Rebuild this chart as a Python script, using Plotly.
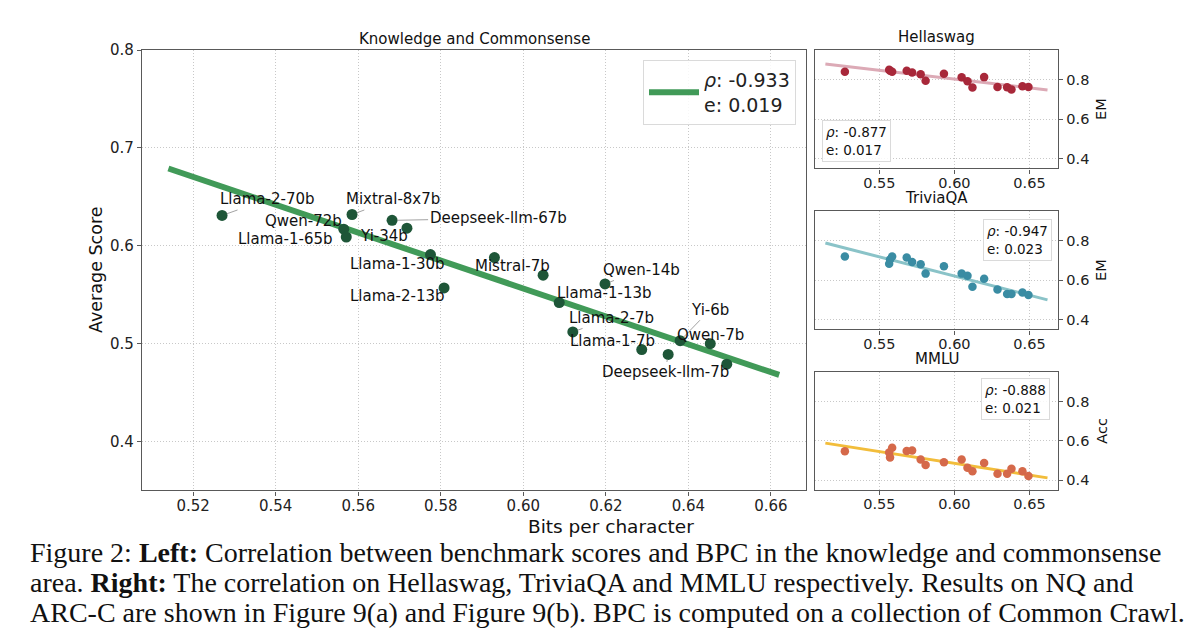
import plotly.graph_objects as go

# ---------------- data ----------------
labels = ["Llama-2-70b", "Qwen-72b", "Llama-1-65b", "Mixtral-8x7b", "Deepseek-llm-67b",
          "Yi-34b", "Llama-1-30b", "Llama-2-13b", "Mistral-7b", "", "Llama-1-13b",
          "Llama-2-7b", "Qwen-14b", "Llama-1-7b", "Deepseek-llm-7b", "Yi-6b", "Qwen-7b", ""]
bpc = [0.5270, 0.5565, 0.5571, 0.5585, 0.5682, 0.5718, 0.5775, 0.5808, 0.5930,
       0.6048, 0.6087, 0.6120, 0.6198, 0.6287, 0.6351, 0.6380, 0.6453, 0.6493]
avg_score = [0.631, 0.617, 0.609, 0.632, 0.626, 0.618, 0.591, 0.557, 0.588,
             0.570, 0.542, 0.512, 0.561, 0.494, 0.489, 0.503, 0.500, 0.479]
hellaswag = [0.840, 0.850, 0.845, 0.840, 0.845, 0.837, 0.827, 0.795, 0.830,
             0.812, 0.792, 0.760, 0.813, 0.763, 0.762, 0.750, 0.767, 0.763]
triviaqa = [0.720, 0.683, 0.705, 0.720, 0.715, 0.692, 0.680, 0.633, 0.670,
            0.633, 0.622, 0.567, 0.607, 0.553, 0.530, 0.530, 0.537, 0.525]
mmlu = [0.547, 0.540, 0.515, 0.565, 0.548, 0.550, 0.505, 0.477, 0.490,
        0.505, 0.462, 0.445, 0.487, 0.432, 0.432, 0.458, 0.445, 0.420]

fit_bpc = [0.514, 0.662]
fit_main = [0.679, 0.468]
fit_hellaswag = [0.879, 0.748]
fit_triviaqa = [0.788, 0.500]
fit_mmlu = [0.588, 0.411]

rho_vals = ["-0.933", "-0.877", "-0.947", "-0.888"]
err_vals = ["0.019", "0.017", "0.023", "0.021"]

main_xticks = [0.52, 0.54, 0.56, 0.58, 0.60, 0.62, 0.64, 0.66]
main_yticks = [0.4, 0.5, 0.6, 0.7, 0.8]
sub_xticks = [0.55, 0.60, 0.65]
sub_yticks = [0.4, 0.6, 0.8]

caption_lines = [
    "Figure 2: <b>Left:</b> Correlation between benchmark scores and BPC in the knowledge and commonsense",
    "area. <b>Right:</b> The correlation on Hellaswag, TriviaQA and MMLU respectively. Results on NQ and",
    "ARC-C are shown in Figure 9(a) and Figure 9(b). BPC is computed on a collection of Common Crawl.",
]

# ---------------- layout helpers ----------------
W, H = 1200, 639
FONT = "DejaVu Sans"


def fx(p):
    return p / W


def fy(p):
    return 1 - p / H


# label offsets (pixels, label centre relative to point) and leader-line flag
label_offsets = {
    "Llama-2-70b": (45, -16, True),
    "Mixtral-8x7b": (41, -15, True),
    "Qwen-72b": (-40, -8, False),
    "Llama-1-65b": (-61, 2, False),
    "Deepseek-llm-67b": (106, -2, True),
    "Yi-34b": (-23, 8, False),
    "Llama-1-30b": (-33, 9, False),
    "Llama-2-13b": (-47, 8, False),
    "Mistral-7b": (18, 8, False),
    "Qwen-14b": (36, -14, True),
    "Llama-1-13b": (45, -10, False),
    "Llama-2-7b": (39, -14, True),
    "Llama-1-7b": (-29, -9, False),
    "Deepseek-llm-7b": (-3, 18, True),
    "Yi-6b": (30, -31, True),
    "Qwen-7b": (0, -9, False),
}

AX_LINE = "#595959"
GRID = "#c8c8c8"


def axis_style(size):
    return dict(showline=True, mirror=True, linecolor=AX_LINE, linewidth=1.2,
                ticks="outside", ticklen=4, tickcolor=AX_LINE, tickwidth=1,
                showgrid=True, gridcolor=GRID, griddash="1px,2px", gridwidth=1,
                zeroline=False, tickfont=dict(family=FONT, size=size, color="#222"))


fig = go.Figure()

# main plot
fig.add_trace(go.Scatter(x=fit_bpc, y=fit_main, mode="lines",
                         line=dict(color="#419a58", width=6),
                         name=f"<i>ρ</i>: {rho_vals[0]}<br>e: {err_vals[0]}",
                         showlegend=True, hoverinfo="skip", xaxis="x", yaxis="y"))
fig.add_trace(go.Scatter(x=bpc, y=avg_score, mode="markers",
                         marker=dict(color="#1e5638", size=11),
                         showlegend=False, xaxis="x", yaxis="y"))

subs = [
    ("Hellaswag", hellaswag, fit_hellaswag, "#a8283a", "#dcaab6", "EM", 2, (41.7, 161.7)),
    ("TriviaQA", triviaqa, fit_triviaqa, "#3a8ca3", "#8ac3c8", "EM", 3, (205.0, 325.0)),
    ("MMLU", mmlu, fit_mmlu, "#d5694a", "#f2bd3b", "Acc", 4, (368.3, 487.7)),
]

for name, ys, fit, dot_c, line_c, ylab, k, (top, bot) in subs:
    fig.add_trace(go.Scatter(x=fit_bpc, y=fit, mode="lines", line=dict(color=line_c, width=3),
                             showlegend=False, hoverinfo="skip",
                             xaxis=f"x{k}", yaxis=f"y{k}"))
    fig.add_trace(go.Scatter(x=bpc, y=ys, mode="markers", marker=dict(color=dot_c, size=8.5),
                             showlegend=False, xaxis=f"x{k}", yaxis=f"y{k}"))

layout = dict(
    width=W, height=H, margin=dict(l=0, r=0, t=0, b=0),
    paper_bgcolor="white", plot_bgcolor="white",
    font=dict(family=FONT, color="#222"),
    xaxis=dict(axis_style(15), domain=[fx(142), fx(806)], range=[0.5076, 0.6685],
               tickvals=main_xticks, tickformat=".2f", anchor="y", ticklabelstandoff=-3),
    yaxis=dict(axis_style(15), domain=[fy(488.3), fy(41.7)], range=[0.35, 0.8],
               tickvals=main_yticks, tickformat=".1f", anchor="x"),
    legend=dict(x=fx(796), xanchor="right", y=fy(51.7), yanchor="top",
                bgcolor="rgba(255,255,255,0.85)", bordercolor="#dadada", borderwidth=1,
                font=dict(family=FONT, size=19, color="#222"), valign="middle",
                itemwidth=50),
    showlegend=True,
)

annotations = []
for name, ys, fit, dot_c, line_c, ylab, k, (top, bot) in subs:
    layout[f"xaxis{k}"] = dict(axis_style(14.5), domain=[fx(815), fx(1058.3)],
                               range=[0.5071, 0.6692], tickvals=sub_xticks, tickformat=".2f",
                               anchor=f"y{k}", ticklabelstandoff=-3)
    layout[f"yaxis{k}"] = dict(axis_style(14.5), domain=[fy(bot), fy(top)], range=[0.35, 0.95],
                               tickvals=sub_yticks, tickformat=".1f", side="right",
                               anchor=f"x{k}")
    # subplot title
    annotations.append(dict(xref="paper", yref="paper", x=fx(936.7), y=fy(top - 2),
                            xanchor="center", yanchor="bottom", showarrow=False,
                            text=name, font=dict(family=FONT, size=15, color="#111")))
    # y label on right
    annotations.append(dict(xref="paper", yref="paper", x=fx(1101.7), y=fy((top + bot) / 2),
                            xanchor="center", yanchor="middle", showarrow=False, textangle=-90,
                            text=ylab, font=dict(family=FONT, size=14.5, color="#111")))

# subplot stat boxes
stat_boxes = [
    (1, dict(x=fx(822.3), xanchor="left", y=fy(113), yanchor="top")),
    (2, dict(x=fx(1052), xanchor="right", y=fy(213), yanchor="top")),
    (3, dict(x=fx(1050), xanchor="right", y=fy(374), yanchor="top")),
]
for i, pos in stat_boxes:
    annotations.append(dict(xref="paper", yref="paper", showarrow=False, align="left",
                            text=f"<i>ρ</i>: {rho_vals[i]}<br>e: {err_vals[i]}",
                            font=dict(family=FONT, size=13.5, color="#111"),
                            bgcolor="rgba(255,255,255,0.85)", bordercolor="#dadada",
                            borderwidth=1, borderpad=3, **pos))

# main point labels
for lab, xv, yv in zip(labels, bpc, avg_score):
    if not lab:
        continue
    dx, dy, arrow = label_offsets[lab]
    if arrow:
        annotations.append(dict(xref="x", yref="y", x=xv, y=yv, text=lab, showarrow=True,
                                ax=dx, ay=dy, arrowhead=0, arrowwidth=0.8, arrowcolor="#8a8a8a",
                                standoff=5, font=dict(family=FONT, size=15, color="#111")))
    else:
        annotations.append(dict(xref="x", yref="y", x=xv, y=yv, text=lab, showarrow=False,
                                xshift=dx, yshift=-dy,
                                font=dict(family=FONT, size=15, color="#111")))

# titles
annotations.append(dict(xref="paper", yref="paper", x=fx(474), y=fy(30), showarrow=False,
                        text="Knowledge and Commonsense", xanchor="center", yanchor="middle",
                        font=dict(family=FONT, size=15, color="#111")))
annotations.append(dict(xref="paper", yref="paper", x=fx(96.7), y=fy(265), showarrow=False,
                        text="Average Score", textangle=-90, xanchor="center", yanchor="middle",
                        font=dict(family=FONT, size=17.5, color="#111")))
annotations.append(dict(xref="paper", yref="paper", x=fx(611), y=fy(524.5), showarrow=False,
                        text="Bits per character", xanchor="center", yanchor="middle",
                        font=dict(family=FONT, size=18.5, color="#111")))

# caption
for line, yc in zip(caption_lines, [551, 582, 612.5]):
    annotations.append(dict(xref="paper", yref="paper", x=fx(28), y=fy(yc), showarrow=False,
                            text=line, xanchor="left", yanchor="middle",
                            font=dict(family="Liberation Serif", size=28, color="#111")))

layout["annotations"] = annotations
fig.update_layout(**layout)

fig.write_html("out.html", config={"displayModeBar": False},
               post_script="document.body.style.margin='0px';")
